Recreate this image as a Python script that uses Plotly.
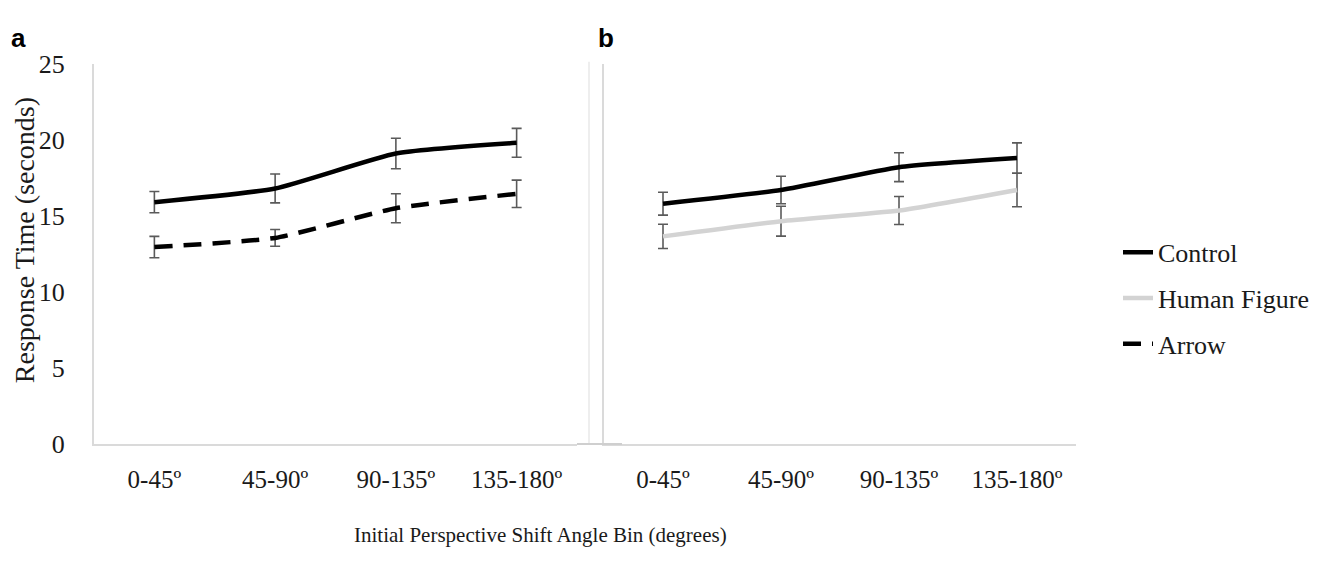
import plotly.graph_objects as go

categories = ["0-45º", "45-90º", "90-135º", "135-180º"]

# Panel a
control_a = [15.9, 16.8, 19.1, 19.8]
control_a_err = [0.7, 0.95, 1.0, 0.95]
arrow_a = [12.95, 13.55, 15.5, 16.45]
arrow_a_err = [0.7, 0.55, 0.95, 0.9]

# Panel b
control_b = [15.8, 16.7, 18.2, 18.8]
control_b_err = [0.75, 0.9, 0.95, 1.0]
human_b = [13.65, 14.65, 15.35, 16.7]
human_b_err = [0.8, 0.98, 0.92, 1.1]

y_ticks = [0, 5, 10, 15, 20, 25]

W, H = 1333, 562
OFF = 8  # page body margin offset


def px(x):
    return (x - OFF) / W


def py(y):
    return (H - (y - OFF)) / H


SERIF = "Liberation Serif, Times New Roman, serif"
SANS = "Liberation Sans, Arial, sans-serif"
TXT = "#1a1a1a"
ERR_COLOR = "#5a5a5a"
AXIS_COLOR = "#dadada"

fig = go.Figure()


def err(arr):
    return dict(type="data", array=arr, visible=True, color=ERR_COLOR, thickness=1.6, width=5)


fig.add_trace(go.Scatter(x=categories, y=control_a, error_y=err(control_a_err), mode="lines",
                         line=dict(color="black", width=4.5, shape="spline", smoothing=0.5),
                         name="Control", legendgroup="c", legendrank=1, xaxis="x", yaxis="y"))
fig.add_trace(go.Scatter(x=categories, y=arrow_a, error_y=err(arrow_a_err), mode="lines",
                         line=dict(color="black", width=4.5, dash="18px,11px", shape="spline", smoothing=0.5),
                         name="Arrow", legendgroup="a", legendrank=3, xaxis="x", yaxis="y"))
fig.add_trace(go.Scatter(x=categories, y=control_b, error_y=err(control_b_err), mode="lines",
                         line=dict(color="black", width=4.5, shape="spline", smoothing=0.5),
                         name="Control", legendgroup="c", showlegend=False, xaxis="x2", yaxis="y2"))
fig.add_trace(go.Scatter(x=categories, y=human_b, error_y=err(human_b_err), mode="lines",
                         line=dict(color="#d3d3d3", width=4.5, shape="spline", smoothing=0.5),
                         name="Human Figure", legendgroup="h", legendrank=2, xaxis="x2", yaxis="y2"))

yd = [py(453), py(52)]
common_x = dict(showgrid=False, showline=True, linecolor=AXIS_COLOR, linewidth=2, ticks="",
                range=[-0.5, 3.5],
                tickfont=dict(family=SERIF, size=25, color=TXT), ticklabelstandoff=12,
                zeroline=False, fixedrange=True)
common_y = dict(range=[0, 25], tickvals=y_ticks, showgrid=False, showline=True,
                linecolor=AXIS_COLOR, linewidth=2, ticks="", zeroline=False,
                tickfont=dict(family=SERIF, size=26, color=TXT))

fig.update_layout(
    width=W, height=H,
    margin=dict(l=0, r=0, t=0, b=0),
    paper_bgcolor="white", plot_bgcolor="white",
    xaxis=dict(domain=[px(94), px(577)], anchor="y", **common_x),
    yaxis=dict(domain=yd, anchor="x", showticklabels=True, ticklabelstandoff=22, **common_y),
    xaxis2=dict(domain=[px(604), px(1076)], anchor="y2", **common_x),
    yaxis2=dict(domain=yd, anchor="x2", showticklabels=False, **common_y),
    showlegend=True,
    legend=dict(x=px(1118), y=py(226), xanchor="left", yanchor="top",
                font=dict(family=SERIF, size=26, color=TXT),
                tracegroupgap=9, bgcolor="rgba(0,0,0,0)", itemwidth=30),
    annotations=[
        dict(text="<b>a</b>", x=px(9), y=py(25), xref="paper", yref="paper", xanchor="left", yanchor="middle",
             showarrow=False, font=dict(family=SANS, size=26, color="black")),
        dict(text="<b>b</b>", x=px(596), y=py(25), xref="paper", yref="paper", xanchor="left", yanchor="middle",
             showarrow=False, font=dict(family=SANS, size=26, color="black")),
        dict(text="Response Time (seconds)", x=px(24), y=py(238), xref="paper", yref="paper",
             textangle=-90, xanchor="center", yanchor="middle", showarrow=False,
             font=dict(family=SERIF, size=28, color=TXT)),
        dict(text="Initial Perspective Shift Angle Bin (degrees)", x=px(540), y=py(549), xref="paper",
             yref="paper", xanchor="center", yanchor="middle", showarrow=False,
             font=dict(family=SERIF, size=21, color=TXT)),
    ],
    shapes=[
        dict(type="line", xref="paper", yref="paper", x0=px(589), x1=px(589), y0=py(453), y1=py(50),
             line=dict(color="#e8e8e8", width=1.5)),
        dict(type="line", xref="paper", yref="paper", x0=px(577), x1=px(622), y0=py(453), y1=py(453),
             line=dict(color="#cfcfcf", width=2)),
    ],
)

fig.write_html("out.html")
